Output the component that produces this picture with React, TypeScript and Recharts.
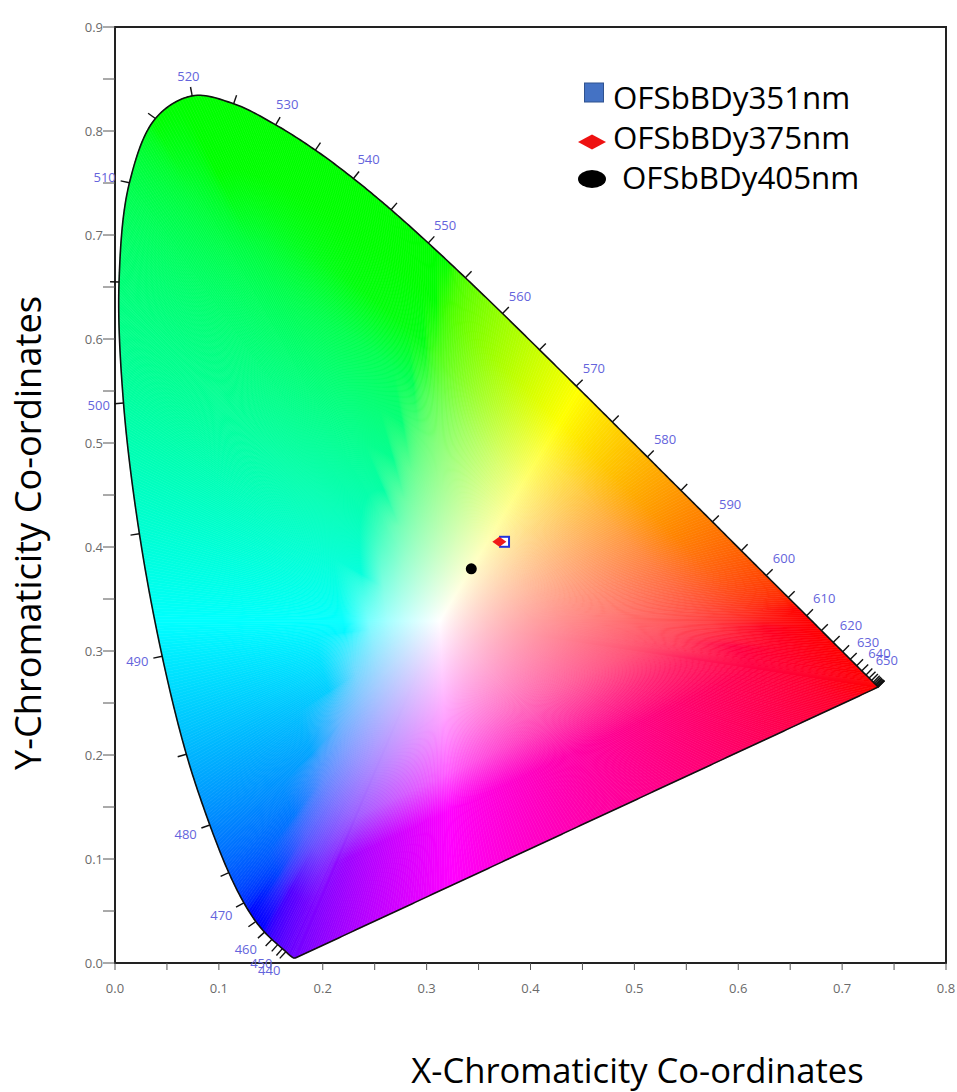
import React from "react"
import { ScatterChart, Scatter, XAxis, YAxis, ReferenceArea, Legend, Label } from "recharts"

// CIE 1931 2° spectral locus (chromaticity x, y), 5 nm steps
const wavelengths = [
  380, 385, 390, 395, 400, 405, 410, 415, 420, 425, 430, 435, 440, 445, 450, 455,
  460, 465, 470, 475, 480, 485, 490, 495, 500, 505, 510, 515, 520, 525, 530, 535,
  540, 545, 550, 555, 560, 565, 570, 575, 580, 585, 590, 595, 600, 605, 610, 615,
  620, 625, 630, 635, 640, 645, 650, 655, 660, 665, 670, 675, 680, 685, 690, 695, 700,
]
const locusX = [
  0.1741, 0.174, 0.1738, 0.1736, 0.1733, 0.173, 0.1726, 0.1721,
  0.1714, 0.1703, 0.1689, 0.1669, 0.1644, 0.1611, 0.1566, 0.151,
  0.144, 0.1355, 0.1241, 0.1096, 0.0913, 0.0687, 0.0454, 0.0235,
  0.0082, 0.0039, 0.0139, 0.0389, 0.0743, 0.1142, 0.1547, 0.1929,
  0.2296, 0.2658, 0.3016, 0.3373, 0.3731, 0.4087, 0.4441, 0.4788,
  0.5125, 0.5448, 0.5752, 0.6029, 0.627, 0.6482, 0.6658, 0.6801,
  0.6915, 0.7006, 0.7079, 0.714, 0.719, 0.723, 0.726, 0.7283,
  0.73, 0.7311, 0.732, 0.7327, 0.7334, 0.734, 0.7344, 0.7346, 0.7347,
]
const locusY = [
  0.005, 0.005, 0.0049, 0.0049, 0.0048, 0.0048, 0.0048, 0.0048,
  0.0051, 0.0058, 0.0069, 0.0086, 0.0109, 0.0138, 0.0177, 0.0227,
  0.0297, 0.0399, 0.0578, 0.0868, 0.1327, 0.2007, 0.295, 0.4127,
  0.5384, 0.6548, 0.7502, 0.812, 0.8338, 0.8262, 0.8059, 0.7816,
  0.7543, 0.7243, 0.6923, 0.6589, 0.6245, 0.5896, 0.5547, 0.5202,
  0.4866, 0.4544, 0.4242, 0.3965, 0.3725, 0.3514, 0.334, 0.3197,
  0.3083, 0.2993, 0.292, 0.2859, 0.2809, 0.277, 0.274, 0.2717,
  0.27, 0.2689, 0.268, 0.2673, 0.2666, 0.266, 0.2656, 0.2654, 0.2653,
]
const tickFrom = 440 // wavelength marks start here
const labelFrom = 440
const labelTo = 650

const whitePoint = { x: 0.3127, y: 0.329 }

// measured samples
const seriesNames = ["OFSbBDy351nm", "OFSbBDy375nm", "OFSbBDy405nm"]
const sampleX = [0.375, 0.37, 0.343]
const sampleY = [0.405, 0.405, 0.379]

const xTicks = [0, 0.05, 0.1, 0.15, 0.2, 0.25, 0.3, 0.35, 0.4, 0.45, 0.5, 0.55, 0.6, 0.65, 0.7, 0.75, 0.8]
const yTicks = [0, 0.05, 0.1, 0.15, 0.2, 0.25, 0.3, 0.35, 0.4, 0.45, 0.5, 0.55, 0.6, 0.65, 0.7, 0.75, 0.8, 0.85, 0.9]

const FONT = '"Open Sans", sans-serif'
const fanStops = [0, 0.03, 0.07, 0.12, 0.18, 0.25, 0.34, 0.45, 0.58, 0.72, 0.86, 1]

const locusData = wavelengths.map((w, i) => ({ x: locusX[i], y: locusY[i], w }))
const sampleData = seriesNames.map((_, i) => [{ x: sampleX[i], y: sampleY[i] }])

type P = { x: number; y: number }

function xyToRgb(x: number, y: number) {
  const X = x / y
  const Z = (1 - x - y) / y
  const r = Math.max(0, 3.2406 * X - 1.5372 - 0.4986 * Z)
  const g = Math.max(0, -0.9689 * X + 1.8758 + 0.0415 * Z)
  const b = Math.max(0, 0.0557 * X - 0.204 + 1.057 * Z)
  const m = Math.max(r, g, b) || 1
  const enc = (v: number) => {
    v = v / m
    const s = v <= 0.0031308 ? 12.92 * v : 1.055 * Math.pow(v, 1 / 2.4) - 0.055
    return Math.round(Math.min(1, s) * 255)
  }
  return `rgb(${enc(r)},${enc(g)},${enc(b)})`
}

const isMajor = (v: number) => Math.abs(v * 10 - Math.round(v * 10)) < 1e-6

// centripetal catmull-rom, used only to draw a smooth outline
function catmull(p0: P, p1: P, p2: P, p3: P, t: number): P {
  const d = (a: P, b: P) => Math.max(Math.sqrt(Math.hypot(b.x - a.x, b.y - a.y)), 1e-4)
  const t0 = 0
  const t1 = t0 + d(p0, p1)
  const t2 = t1 + d(p1, p2)
  const t3 = t2 + d(p2, p3)
  const u = t1 + (t2 - t1) * t
  const mix = (a: P, b: P, ta: number, tb: number) => ({
    x: ((tb - u) / (tb - ta)) * a.x + ((u - ta) / (tb - ta)) * b.x,
    y: ((tb - u) / (tb - ta)) * a.y + ((u - ta) / (tb - ta)) * b.y,
  })
  const a1 = mix(p0, p1, t0, t1)
  const a2 = mix(p1, p2, t1, t2)
  const a3 = mix(p2, p3, t2, t3)
  const b1 = mix(a1, a2, t0, t2)
  const b2 = mix(a2, a3, t1, t3)
  return mix(b1, b2, t1, t2)
}

function renderLocus(props: any) {
  const pts: P[] = props.points || []
  const n = pts.length
  if (n < 3) return <g />

  // data -> pixel mapping taken from the points the library placed
  const iX0 = locusX.indexOf(Math.min(...locusX))
  const iX1 = locusX.indexOf(Math.max(...locusX))
  const iY0 = locusY.indexOf(Math.min(...locusY))
  const iY1 = locusY.indexOf(Math.max(...locusY))
  const kx = (pts[iX1].x - pts[iX0].x) / (locusX[iX1] - locusX[iX0])
  const ox = pts[iX1].x - kx * locusX[iX1]
  const ky = (pts[iY1].y - pts[iY0].y) / (locusY[iY1] - locusY[iY0])
  const oy = pts[iY1].y - ky * locusY[iY1]
  const wp = { x: ox + kx * whitePoint.x, y: oy + ky * whitePoint.y }

  // smooth ring along the locus, then the straight purple line
  const ring: P[] = []
  for (let i = 0; i < n - 1; i++) {
    const p0 = pts[Math.max(i - 1, 0)]
    const p1 = pts[i]
    const p2 = pts[i + 1]
    const p3 = pts[Math.min(i + 2, n - 1)]
    const steps = Math.max(1, Math.ceil(Math.hypot(p2.x - p1.x, p2.y - p1.y) / 3))
    for (let s = 0; s < steps; s++) ring.push(catmull(p0, p1, p2, p3, s / steps))
  }
  {
    const a = pts[n - 1]
    const b = pts[0]
    const steps = Math.max(1, Math.ceil(Math.hypot(b.x - a.x, b.y - a.y) / 3))
    for (let s = 0; s < steps; s++) {
      ring.push({ x: a.x + ((b.x - a.x) * s) / steps, y: a.y + ((b.y - a.y) * s) / steps })
    }
  }

  const defs: React.ReactNode[] = []
  const tris: React.ReactNode[] = []
  ring.forEach((a, i) => {
    const b = ring[(i + 1) % ring.length]
    const m = { x: (a.x + b.x) / 2, y: (a.y + b.y) / 2 }
    const md = { x: (m.x - ox) / kx, y: (m.y - oy) / ky }
    const id = `cie-${i}`
    defs.push(
      <linearGradient key={id} id={id} gradientUnits="userSpaceOnUse" x1={wp.x} y1={wp.y} x2={m.x} y2={m.y}>
        {fanStops.map((t) => (
          <stop
            key={t}
            offset={t}
            stopColor={xyToRgb(whitePoint.x + t * (md.x - whitePoint.x), whitePoint.y + t * (md.y - whitePoint.y))}
          />
        ))}
      </linearGradient>
    )
    tris.push(
      <polygon
        key={id}
        points={`${wp.x},${wp.y} ${a.x},${a.y} ${b.x},${b.y}`}
        fill={`url(#${id})`}
        stroke={`url(#${id})`}
        strokeWidth={0.6}
        strokeLinejoin="round"
      />
    )
  })

  // wavelength marks + labels
  const marks: React.ReactNode[] = []
  wavelengths.forEach((w, i) => {
    if (w < tickFrom) return
    const p = pts[i]
    const a = pts[Math.max(i - 1, 0)]
    const b = pts[Math.min(i + 1, n - 1)]
    const tx = b.x - a.x
    const ty = b.y - a.y
    const L = Math.hypot(tx, ty) || 1
    const nx = ty / L
    const ny = -tx / L
    const ex = p.x + nx * 9
    const ey = p.y + ny * 9
    marks.push(<line key={`t${w}`} x1={p.x} y1={p.y} x2={ex} y2={ey} stroke="#111" strokeWidth={1.4} />)
    if (w % 10 === 0 && w >= labelFrom && w <= labelTo) {
      const gap = 4 + Math.abs(nx) * 11.5 + Math.abs(ny) * 5.5
      marks.push(
        <text
          key={`l${w}`}
          x={ex + nx * gap}
          y={ey + ny * gap}
          textAnchor="middle"
          dominantBaseline="central"
          fontFamily={FONT}
          fontSize={13}
          fill="#6464dc"
        >
          {w}
        </text>
      )
    }
  })

  const outline = ring.map((p) => `${p.x},${p.y}`).join(" ")
  return (
    <g>
      <defs>{defs}</defs>
      {tris}
      <polygon points={outline} fill="none" stroke="#111" strokeWidth={1.6} strokeLinejoin="round" />
      {marks}
    </g>
  )
}

function markerShape(i: number) {
  return (p: any) => {
    const { cx, cy } = p
    if (i === 0) return <rect x={cx - 4.5} y={cy - 5} width={9} height={10} fill="#fff" stroke="#2233dd" strokeWidth={2} />
    if (i === 1)
      return <polygon points={`${cx - 7},${cy} ${cx},${cy - 5} ${cx + 7},${cy} ${cx},${cy + 5}`} fill="#f01a1a" />
    return <circle cx={cx} cy={cy} r={5.5} fill="#000" />
  }
}

function LegendIcon({ i }: { i: number }) {
  return (
    <svg width={36} height={40} style={{ display: "block", flex: "none" }}>
      {i === 0 && <rect x={10.5} y={6} width={19} height={19} fill="#4472c4" stroke="#2f528f" strokeWidth={1} />}
      {i === 1 && <polygon points="4,25 18,17.5 32,25 18,32.5" fill="#ee1111" />}
      {i === 2 && <ellipse cx={18} cy={22} rx={14} ry={9} fill="#000" />}
    </svg>
  )
}

function renderLegend(props: any) {
  const payload = props.payload || []
  return (
    <div style={{ fontFamily: FONT }}>
      {payload.map((entry: any) => {
        const i = seriesNames.indexOf(entry.value)
        if (i < 0) return null
        return (
          <div key={entry.value} style={{ display: "flex", alignItems: "center", height: 40 }}>
            <LegendIcon i={i} />
            <span style={{ fontSize: 31.3, lineHeight: "40px", color: "#000", marginLeft: i === 2 ? 12 : 3, whiteSpace: "nowrap" }}>
              {entry.value}
            </span>
          </div>
        )
      })}
    </div>
  )
}

function XTick(p: any) {
  const v = p.payload.value
  if (!isMajor(v)) return <g />
  return (
    <text x={p.x} y={p.y + 23} textAnchor="middle" fontFamily={FONT} fontSize={13} fill="#6b6b6b">
      {v.toFixed(1)}
    </text>
  )
}

function YTick(p: any) {
  const v = p.payload.value
  if (!isMajor(v)) return <g />
  return (
    <text x={p.x} y={p.y + 4.5} textAnchor="end" fontFamily={FONT} fontSize={13} fill="#6b6b6b">
      {v.toFixed(1)}
    </text>
  )
}

export default function App() {
  return (
    <div style={{ width: 957, height: 1092, background: "#fff", position: "relative" }}>
      <style>{"body{margin:0}"}</style>
      <ScatterChart width={957} height={1092} margin={{ top: 27, right: 11, bottom: 89, left: 55 }}>
        <XAxis
          type="number"
          dataKey="x"
          domain={[0, 0.8]}
          ticks={xTicks}
          interval={0}
          height={40}
          tickSize={7}
          tickMargin={0}
          tick={<XTick />}
          axisLine={{ stroke: "#222", strokeWidth: 2 }}
          tickLine={{ stroke: "#555" }}
        >
          <Label
            content={(p: any) => {
              const vb = p.viewBox
              return (
                <text x={vb.x + vb.width / 2 + 107} y={vb.y + 120} textAnchor="middle" fontFamily={FONT} fontSize={34.6} fill="#000">
                  X-Chromaticity Co-ordinates
                </text>
              )
            }}
          />
        </XAxis>
        <YAxis
          type="number"
          dataKey="y"
          domain={[0, 0.9]}
          ticks={yTicks}
          interval={0}
          width={60}
          tickSize={12}
          tickMargin={0}
          tick={<YTick />}
          axisLine={{ stroke: "#222", strokeWidth: 2 }}
          tickLine={{ stroke: "#555" }}
        >
          <Label
            content={(p: any) => {
              const vb = p.viewBox
              const cx = vb.x - 28
              const cy = vb.y + vb.height / 2 + 38
              return (
                <text
                  x={cx}
                  y={cy}
                  transform={`rotate(-90, ${cx}, ${cy})`}
                  textAnchor="middle"
                  dominantBaseline="central"
                  fontFamily={FONT}
                  fontSize={36.3}
                  fill="#000"
                >
                  Y-Chromaticity Co-ordinates
                </text>
              )
            }}
          />
        </YAxis>
        <ReferenceArea x1={0} x2={0.8} y1={0} y2={0.9} fill="none" stroke="#222" strokeWidth={2} />
        <Scatter
          name="locus"
          data={locusData}
          legendType="none"
          line={renderLocus}
          lineType="joint"
          shape={() => <g />}
          isAnimationActive={false}
        />
        {seriesNames.map((name, i) => (
          <Scatter key={name} name={name} data={sampleData[i]} shape={markerShape(i)} isAnimationActive={false} />
        ))}
        <Legend
          layout="horizontal"
          align="center"
          verticalAlign="middle"
          content={renderLegend}
          wrapperStyle={{ position: "absolute", top: 77, left: 574, width: 360, height: 120 }}
        />
      </ScatterChart>
    </div>
  )
}
